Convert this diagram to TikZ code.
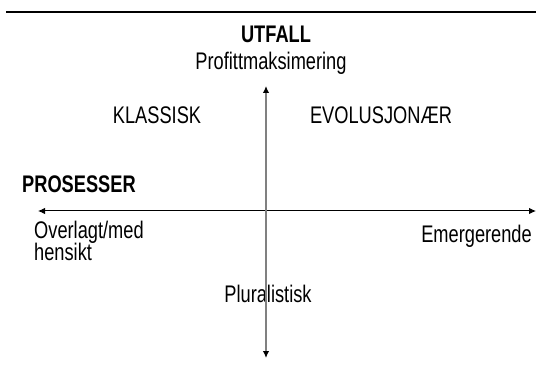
\documentclass[tikz,border=0pt]{standalone}
\usepackage{fontspec}
\setmainfont{Liberation Sans}[FakeStretch=0.76]
\usetikzlibrary{arrows.meta}

\tikzset{
  label/.style={inner sep=0pt, anchor=base, font=\fontsize{24}{24}\selectfont},
  axis/.style={line width=1pt, {Latex[black,length=7pt,width=6.5pt]}-{Latex[black,length=7pt,width=6.5pt]}}
}

\begin{document}
\begin{tikzpicture}[x=1pt, y=-1pt]
        \useasboundingbox (0,0) rectangle (536,385);
        % rule at the top
        \coordinate (ruleleft) at (6,12);
        \coordinate (ruleright) at (536,12);
        \draw[line width=2pt] (ruleleft) -- (ruleright);

        \node[label] (utfall) at (276,43) {\bfseries UTFALL};
        \node[label] (profitt) at (271,70) {Profittmaksimering};
        \node[label] (klassisk) at (157,124) {KLASSISK};
        \node[label] (evolusjonaer) at (381,124) {EVOLUSJONÆR};
        \node[label, anchor=base west] (prosesser) at (22,193) {\bfseries PROSESSER};
        \node[label, anchor=base west] (overlagt) at (34,238) {Overlagt/med};
        \node[label, anchor=base west] (hensikt) at (34,260) {hensikt};
        \node[label, anchor=base east] (emergerende) at (532,243) {Emergerende};
        \node[label] (pluralistisk) at (268,302) {Pluralistisk};

        % axes
        \coordinate (west) at (38,211);
        \coordinate (east) at (536,211);
        \coordinate (north) at (266,86);
        \coordinate (south) at (266,358);
        \draw[axis] (west) -- (east);
        \draw[axis, gray, line width=1.8pt] (south) -- (north);
    \end{tikzpicture}
\end{document}
